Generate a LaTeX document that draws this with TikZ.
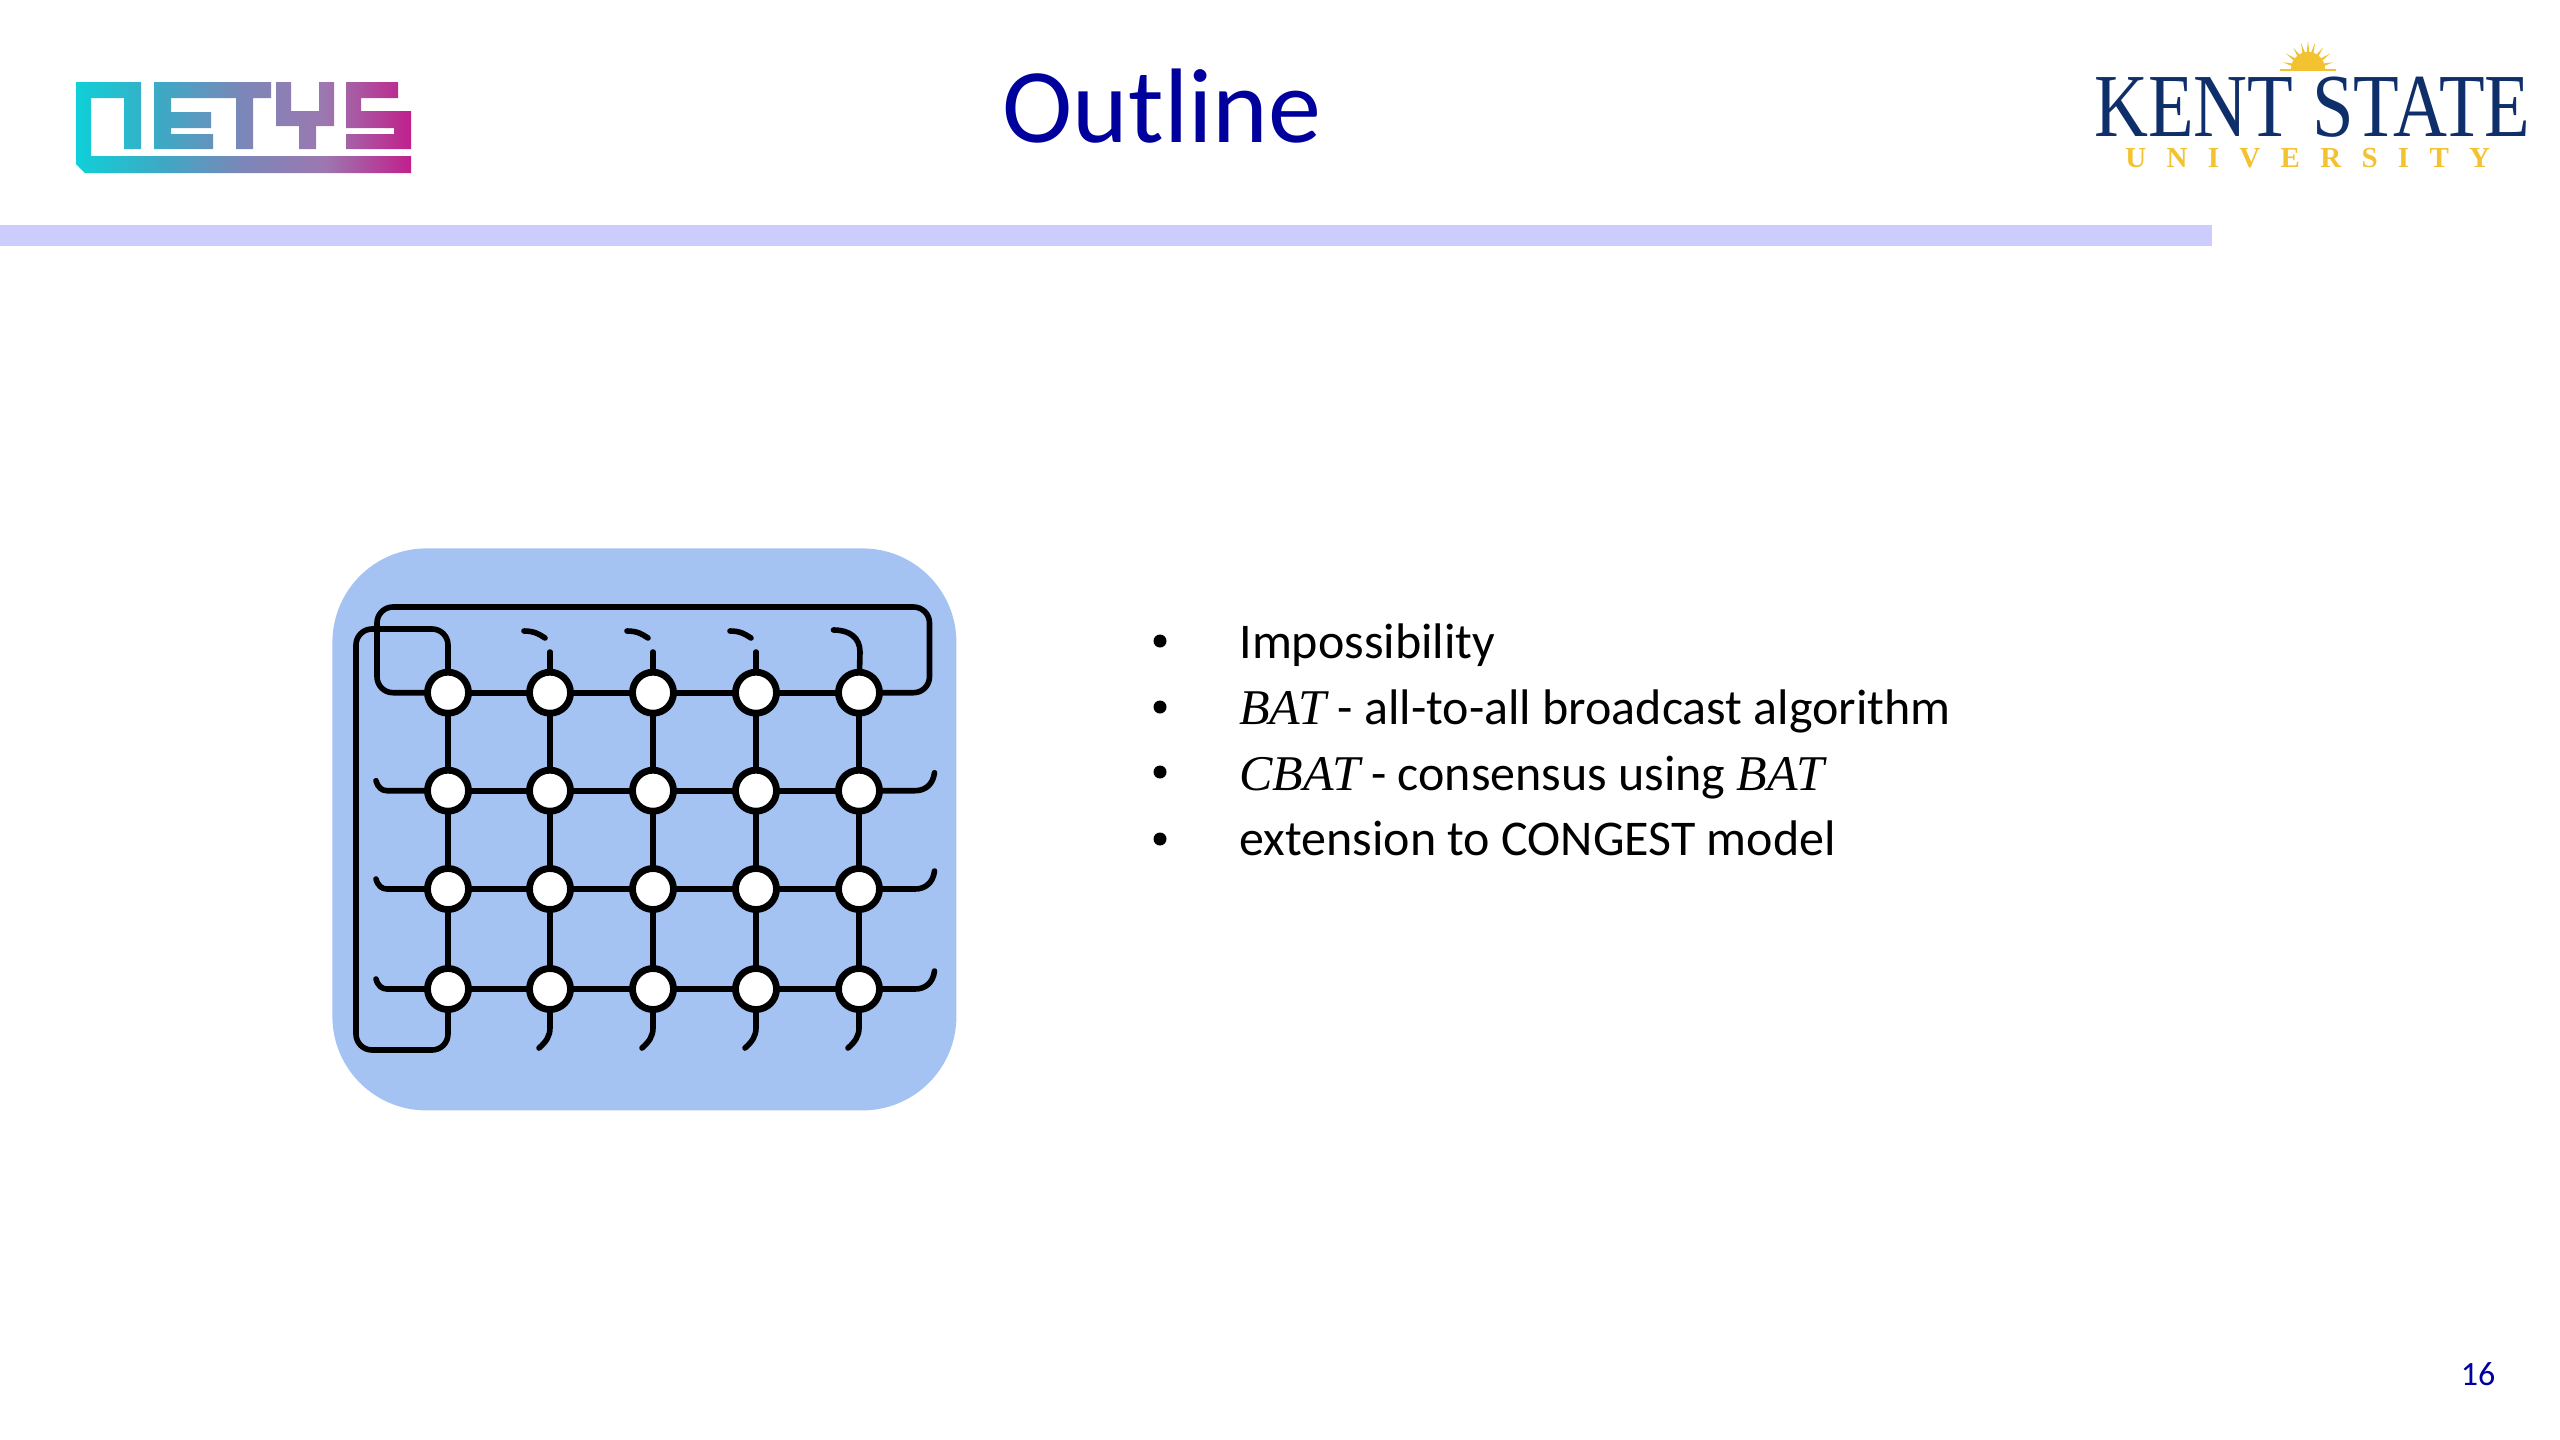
\documentclass[tikz,border=0pt]{standalone}
\usepackage{fontspec}
\setmainfont{Carlito}
\newfontfamily\timesfont{Liberation Serif}
\newfontfamily\ksuspaced[LetterSpace=70]{Liberation Serif}
\usetikzlibrary{calc}
\definecolor{titleblue}{HTML}{00009C}
\definecolor{barblue}{HTML}{CCCCFF}
\definecolor{panelblue}{HTML}{A4C2F2}
\definecolor{ksublue}{HTML}{0F2F6B}
\definecolor{ksugold}{HTML}{F2C230}
\definecolor{netA}{HTML}{0FD0D8}
\definecolor{netB}{HTML}{3FA8C4}
\definecolor{netC}{HTML}{7C86B8}
\definecolor{netD}{HTML}{9C78B0}
\definecolor{netE}{HTML}{C0208C}
\pgfdeclarehorizontalshading{netysshade}{100bp}{
 color(0bp)=(netA); color(25bp)=(netA); color(38bp)=(netB);
 color(50bp)=(netC); color(62bp)=(netD); color(75bp)=(netE); color(100bp)=(netE)}
\tikzset{
 gridnode/.style={circle,draw=black,fill=white,line width=3.4pt,minimum size=20.5pt,inner sep=0pt,outer sep=0pt},
 wire/.style={draw=black,line width=2.8pt,line cap=round},
 wrapwire/.style={wire,rounded corners=8pt},
 bodytext/.style={anchor=base west,inner sep=0pt,font=\fontsize{25}{29}\selectfont,text=black},
 bulletmark/.style={circle,fill=black,inner sep=0pt,minimum size=6.5pt},
}
\begin{document}
\begin{tikzpicture}[x=0.5pt,y=-0.5pt]
\useasboundingbox (0,0) rectangle (2560,1440);
% header
\fill[barblue] (0,225) rectangle (2212,246);
\node[anchor=base,inner sep=0pt,text=titleblue,font=\fontsize{53}{60}\selectfont] (title) at (1162,142) {Outline};
\node[anchor=base,inner sep=0pt,text=titleblue,font=\fontsize{17}{20}\selectfont] (pagenum) at (2478,1385) {16};
% NETYS logo
\path[shade,shading=netysshade]
 (76,82) -- (141,82) -- (141,149) -- (124,149) -- (124,98) -- (91,98) -- (91,156) -- (411,156) -- (411,173) -- (85,173) -- (76,164) -- cycle
 (154,82) rectangle (271,98)
 (154,82) rectangle (171,149)
 (154,112) rectangle (211,128)
 (154,134) rectangle (213,149)
 (236,82) rectangle (253,149)
 (276,82) rectangle (291,126)
 (276,111) rectangle (334,126)
 (319,82) rectangle (334,126)
 (299,111) rectangle (316,149)
 (346,82) rectangle (398,98)
 (346,82) rectangle (361,126)
 (346,111) rectangle (411,128)
 (394,111) rectangle (411,149)
 (346,134) rectangle (411,149);
% Kent State logo
\begin{scope}[shift={(2308,69)}]
\fill[ksugold] (-28,0) -- (28,0) -- (28,1.5) -- (-28,1.5) -- cycle;
\fill[ksugold] (-17,0) arc[start angle=180,end angle=360,radius=17] -- cycle;
\foreach \a/\r in {195/26,215/27,235/26,255/27,270/28,285/27,305/26,325/27,345/26}{
 \fill[ksugold] (\a-7:14) -- (\a:\r) -- (\a+7:14) -- cycle;
}
\end{scope}
\node[anchor=base west,inner sep=0pt,text=ksublue] (kent) at (2094,136) {\scalebox{0.83}[1]{\timesfont\fontsize{45}{50}\selectfont KENT STATE}};
\node[anchor=base west,inner sep=0pt,text=ksugold] (university) at (2125,167) {\ksuspaced\bfseries\fontsize{14.5}{16}\selectfont UNIVERSITY};
% panel
\node[draw=none,fill=panelblue,rounded corners=47pt,minimum width=312pt,minimum height=281pt,inner sep=0pt,anchor=north west] (panel) at (332,548) {};
% mesh nodes
\foreach \r/\yy in {1/692.7,2/790.7,3/889,4/989}{
 \foreach \c/\xx in {1/448,2/550,3/653,4/756,5/859}{
  \node[gridnode] (n\r\c) at (\xx,\yy) {};
 }
}
% mesh edges
\foreach \r in {1,2,3,4}{
 \foreach \c/\d in {1/2,2/3,3/4,4/5}{
  \draw[wire] (n\r\c) -- (n\r\d);
 }
}
\foreach \c in {1,2,3,4,5}{
 \foreach \r/\s in {1/2,2/3,3/4}{
  \draw[wire] (n\r\c) -- (n\s\c);
 }
}
% wrap connectors
\coordinate (wa) at (929.5,692.7);
\coordinate (wb) at (929.5,607);
\coordinate (wc) at (377,607);
\coordinate (wd) at (377,692.7);
\draw[wrapwire] (n15) -- (wa) -- (wb) -- (wc) -- (wd) -- (n11);
\coordinate (va) at (448,629);
\coordinate (vb) at (356,629);
\coordinate (vc) at (356,1050);
\coordinate (vd) at (448,1050);
\draw[wrapwire] (n11) -- (va) -- (vb) -- (vc) -- (vd) -- (n41);
% top stubs
\foreach \c/\xx in {2/550,3/653,4/756}{
 \coordinate (tt\c) at (\xx,652);
 \draw[wire] (n1\c) -- (tt\c);
 \coordinate (ta\c) at (\xx-26,631);
 \coordinate (tb\c) at (\xx-5,638);
 \draw[wire] (ta\c) .. controls ($(ta\c)+(10,0)$) and ($(tb\c)+(-6,-4)$) .. (tb\c);
}
\coordinate (tt5) at (860,652);
\coordinate (ta5) at (833.5,630);
\draw[wire] (n15) -- (tt5) .. controls (860,638) and (850,630) .. (ta5);
% side stubs
\foreach \r/\yy in {2/790.7,3/889,4/989}{
 \coordinate (ra\r) at (915,\yy);
 \coordinate (rb\r) at (934.5,\yy-18);
 \draw[wire] (n\r5) -- (ra\r) .. controls (925,\yy) and (933,\yy-6) .. (rb\r);
 \coordinate (la\r) at (387,\yy);
 \coordinate (lb\r) at (376,\yy-10);
 \draw[wire] (n\r1) -- (la\r) .. controls (382,\yy) and (378,\yy-3) .. (lb\r);
}
% bottom stubs
\foreach \c/\xx in {2/550,3/653,4/756,5/859}{
 \coordinate (ba\c) at (\xx,1028);
 \coordinate (bb\c) at (\xx-11,1048);
 \draw[wire] (n4\c) -- (ba\c) .. controls (\xx,1036) and (\xx-4,1042) .. (bb\c);
}
% bullets
\node[bulletmark] (b1) at (1160,641) {};
\node[bulletmark] (b2) at (1160,707) {};
\node[bulletmark] (b3) at (1160,772) {};
\node[bulletmark] (b4) at (1160,839) {};
\node[bodytext] (t1) at (1239,658) {Impossibility};
\node[bodytext] (t2) at (1239,724) {{\timesfont\itshape BAT} - all-to-all broadcast algorithm};
\node[bodytext] (t3) at (1239,790) {{\timesfont\itshape CBAT} - consensus using {\timesfont\itshape BAT}};
\node[bodytext] (t4) at (1239,855) {extension to CONGEST model};
\end{tikzpicture}
\end{document}
